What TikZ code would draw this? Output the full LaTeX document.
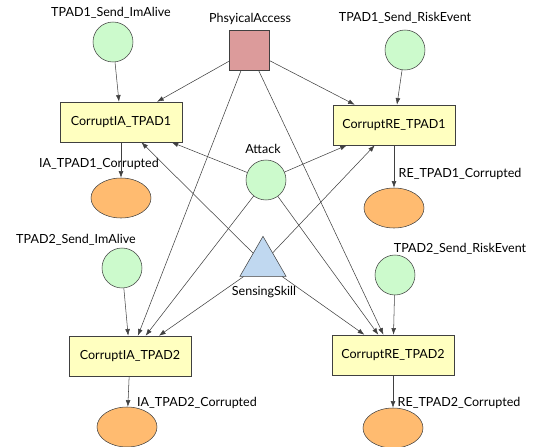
\documentclass[tikz,border=0pt]{standalone}
\usepackage{fontspec}
\setmainfont{Lato}
\usetikzlibrary{arrows.meta, shapes.geometric}
\definecolor{placegreen}{RGB}{204,250,204}
\definecolor{resultorange}{RGB}{255,187,112}
\definecolor{transyellow}{RGB}{255,255,192}
\definecolor{accesspink}{RGB}{220,155,155}
\definecolor{skillblue}{RGB}{192,216,240}
\definecolor{edgegray}{RGB}{64,64,64}
\tikzset{
    gnode/.style={circle, draw=edgegray, fill=placegreen, minimum size=30pt, inner sep=0pt},
    onode/.style={ellipse, draw=edgegray, fill=resultorange, minimum width=45pt, minimum height=30pt, inner sep=0pt},
    tnode/.style={rectangle, draw=edgegray, fill=transyellow, minimum width=91.5pt, minimum height=30pt, font=\fontsize{9.4}{11}\selectfont},
    pnode/.style={rectangle, draw=edgegray, fill=accesspink, minimum size=30pt, inner sep=0pt},
    snode/.style={regular polygon, regular polygon sides=3, draw=edgegray, fill=skillblue, minimum size=40pt, inner sep=0pt},
    lbl/.style={inner sep=0pt, font=\fontsize{9.4}{11}\selectfont},
    link/.style={draw=edgegray, -{Latex[length=5pt, width=3.6pt]}},
}

\begin{document}
\begin{tikzpicture}[x=0.75pt, y=-0.75pt]
    \useasboundingbox (0,0) rectangle (540,447);

    % Sources
    \node[gnode] (ia1send) at (113, 42) {};
    \node[lbl] (ia1sendlbl) at (111, 13) {TPAD1\_Send\_ImAlive};
    \node[pnode] (access) at (249, 50) {};
    \node[lbl] (accesslbl) at (250, 19) {PhsyicalAccess};
    \node[gnode] (re1send) at (405, 50) {};
    \node[lbl] (re1sendlbl) at (405, 18) {TPAD1\_Send\_RiskEvent};

    % First TPAD
    \node[tnode] (ia1) at (121, 122) {CorruptIA\_TPAD1};
    \node[tnode] (re1) at (394, 125) {CorruptRE\_TPAD1};
    \node[onode] (ia1bad) at (121, 198) {};
    \node[lbl] (ia1badlbl) at (99, 164) {IA\_TPAD1\_Corrupted};
    \node[onode] (re1bad) at (394, 208) {};
    \node[lbl] (re1badlbl) at (460, 174) {RE\_TPAD1\_Corrupted};

    % Attacker
    \node[gnode] (attack) at (266, 180) {};
    \node[lbl] (attacklbl) at (263, 149) {Attack};
    \node[snode] (skill) at (263, 263) {};
    \node[lbl] (skilllbl) at (264, 292) {SensingSkill};

    % Second TPAD
    \node[gnode] (ia2send) at (122, 268) {};
    \node[lbl] (ia2sendlbl) at (76, 240) {TPAD2\_Send\_ImAlive};
    \node[gnode] (re2send) at (395, 275) {};
    \node[lbl] (re2sendlbl) at (460, 249) {TPAD2\_Send\_RiskEvent};
    \node[tnode] (ia2) at (130, 356) {CorruptIA\_TPAD2};
    \node[tnode] (re2) at (393, 355) {CorruptRE\_TPAD2};
    \node[onode] (ia2bad) at (127, 427) {};
    \node[lbl] (ia2badlbl) at (197, 403) {IA\_TPAD2\_Corrupted};
    \node[onode] (re2bad) at (393, 428) {};
    \node[lbl] (re2badlbl) at (459, 403) {RE\_TPAD2\_Corrupted};

    % Arcs
    \foreach \src/\dst in {ia1send/ia1, re1send/re1, ia2send/ia2, re2send/re2,
                           ia1/ia1bad, re1/re1bad, ia2/ia2bad, re2/re2bad}
        \draw[link] (\src) -- (\dst);
    \foreach \src in {access, attack, skill}
        \foreach \dst in {ia1, re1, ia2, re2}
            \draw[link] (\src) -- (\dst);
\end{tikzpicture}
\end{document}
